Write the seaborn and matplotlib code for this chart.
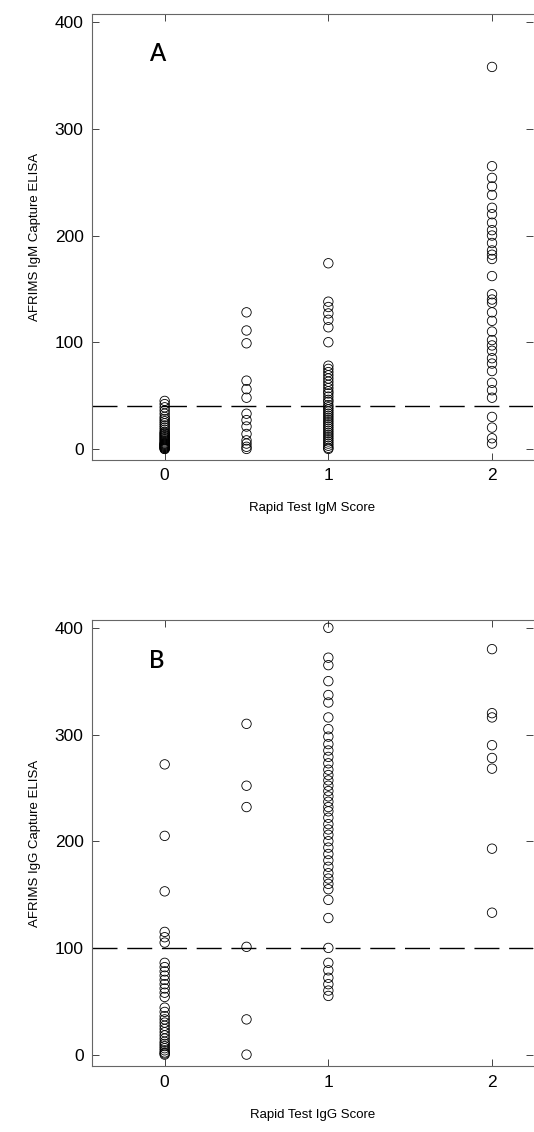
import matplotlib
matplotlib.use("Agg")
import matplotlib.pyplot as plt
import seaborn as sns
import pandas as pd

sns.set_style("ticks")
plt.rcParams['font.family'] = ['Liberation Sans', 'DejaVu Sans']
plt.rcParams['text.color'] = 'black'
plt.rcParams['axes.labelcolor'] = 'black'
plt.rcParams['xtick.labelcolor'] = 'black'
plt.rcParams['ytick.labelcolor'] = 'black'

# ---- Panel A data (IgM) ----
igm_score_0 = [45, 42, 39, 36, 33, 30, 28, 26, 24, 22, 20, 18, 16, 15, 14, 13, 12, 11,
               10, 9, 8, 7, 6, 5, 5, 4, 4, 3, 3, 2, 2, 1, 1, 0, 0]
igm_score_05 = [128, 111, 99, 64, 56, 48, 33, 27, 21, 14, 8, 5, 2, 0]
igm_score_1 = [174, 138, 133, 127, 121, 114, 100, 78, 75, 72, 69, 66, 63, 60, 57, 54, 52,
               49, 46, 44, 41, 39, 37, 35, 33, 31, 29, 27, 25, 23, 21, 19, 17, 15, 13,
               11, 9, 7, 5, 3, 1, 0]
igm_score_2 = [358, 265, 254, 246, 238, 226, 220, 212, 205, 200, 193, 186, 182, 178, 162,
               145, 140, 137, 128, 120, 110, 102, 97, 92, 85, 80, 73, 62, 55, 48, 30, 20,
               10, 5]
igm_cutoff = 40

# ---- Panel B data (IgG) ----
igg_score_0 = [272, 205, 153, 115, 110, 105, 86, 82, 78, 74, 70, 66, 62, 58, 54, 44, 40,
               36, 33, 30, 27, 24, 21, 18, 15, 12, 10, 8, 6, 4, 2, 1, 0]
igg_score_05 = [310, 252, 232, 101, 33, 0]
igg_score_1 = [400, 372, 365, 350, 337, 330, 316, 305, 298, 291, 285, 279, 273, 267, 262,
               257, 252, 247, 242, 237, 232, 228, 222, 216, 211, 206, 200, 194, 188, 182,
               176, 170, 165, 160, 155, 145, 128, 100, 86, 79, 72, 66, 60, 55]
igg_score_2 = [380, 320, 316, 290, 278, 268, 193, 133]
igg_cutoff = 100

x_ticks = [0, 1, 2]


def make_df(cols):
    xs, ys = [], []
    for score, vals in cols:
        xs += [score] * len(vals)
        ys += vals
    return pd.DataFrame({"score": xs, "value": ys})


df_a = make_df([(0, igm_score_0), (0.5, igm_score_05), (1, igm_score_1), (2, igm_score_2)])
df_b = make_df([(0, igg_score_0), (0.5, igg_score_05), (1, igg_score_1), (2, igg_score_2)])

fig = plt.figure(figsize=(5.34, 11.32), dpi=100)
ax_a = fig.add_axes([0.172, 0.594, 0.826, 0.394])
ax_b = fig.add_axes([0.172, 0.058, 0.826, 0.394])

panels = [
    (ax_a, df_a, igm_cutoff, "A", "AFRIMS IgM Capture ELISA", "Rapid Test IgM Score", (-10, 408)),
    (ax_b, df_b, igg_cutoff, "B", "AFRIMS IgG Capture ELISA", "Rapid Test IgG Score", (-11, 407)),
]

for ax, df, cut, letter, ylab, xlab, ylim in panels:
    sns.scatterplot(data=df, x="score", y="value", ax=ax, marker="o", s=46,
                    facecolors="none", edgecolor="black", linewidth=0.6, legend=False)
    ax.axhline(cut, color="black", lw=1.0, dashes=(18, 7))
    ax.set_xlim(-0.445, 2.25)
    ax.set_ylim(*ylim)
    ax.set_xticks(x_ticks)
    ax.set_yticks([0, 100, 200, 300, 400])
    ax.tick_params(direction="in", length=5, width=0.7, labelsize=12.5, color="#444444",
                   top=True, right=True, pad=6)
    for side in ["left", "bottom", "top"]:
        ax.spines[side].set_color("#666666")
        ax.spines[side].set_linewidth(0.8)
    ax.spines["right"].set_visible(False)
    ax.set_xlabel(xlab, fontsize=9.5, labelpad=14)
    ax.set_ylabel(ylab, fontsize=9.5, labelpad=10)
    ax.text(0.13, 0.91, letter, transform=ax.transAxes, fontsize=17, ha="left", va="center",
            fontweight="semibold", family=["Lato", "DejaVu Sans"])

fig.savefig("out.png", dpi=100)
